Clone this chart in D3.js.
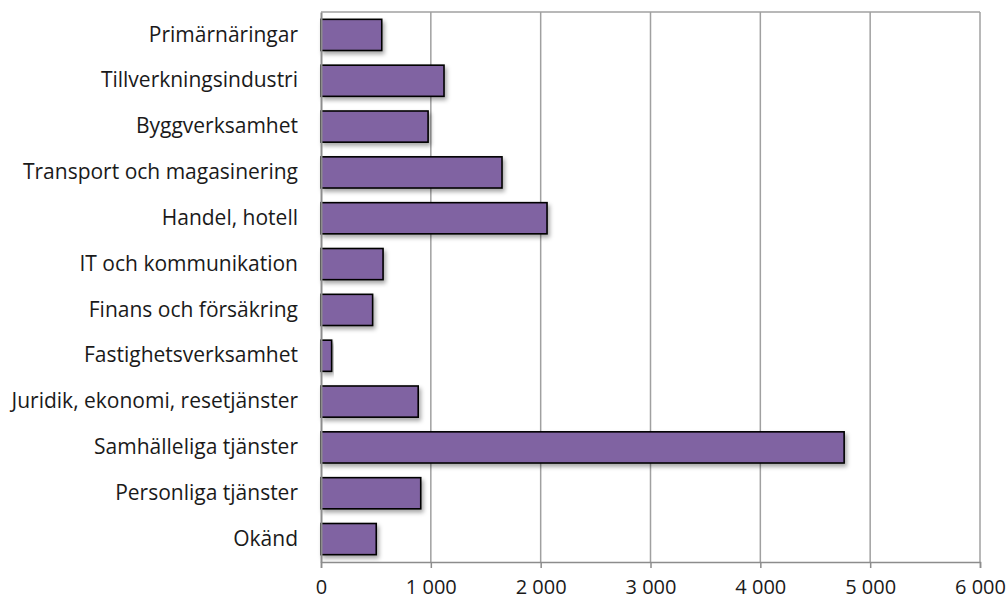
<!DOCTYPE html>
<html>
<head>
<meta charset="utf-8">
<script src="https://cdn.jsdelivr.net/npm/d3@7"></script>
<style>
  body { margin: 0; background: #fff; }
  text { font-family: "Open Sans", sans-serif; }
</style>
</head>
<body>
<div id="chart"></div>
<script>
let w = 1008;
let h = 600;

// data
let categories = [
  "Primärnäringar",
  "Tillverkningsindustri",
  "Byggverksamhet",
  "Transport och magasinering",
  "Handel, hotell",
  "IT och kommunikation",
  "Finans och försäkring",
  "Fastighetsverksamhet",
  "Juridik, ekonomi, resetjänster",
  "Samhälleliga tjänster",
  "Personliga tjänster",
  "Okänd"
];
let values = [553, 1120, 975, 1648, 2058, 565, 470, 97, 885, 4763, 908, 503];
let xTicks = [0, 1000, 2000, 3000, 4000, 5000, 6000];

let plotLeft = 321, plotRight = 980, plotTop = 12, plotBottom = 562;

let svg = d3.select("#chart").append("svg")
  .attr("width", w)
  .attr("height", h);

let defs = svg.append("defs");
let f = defs.append("filter").attr("id", "shadow")
  .attr("x", "-10%").attr("y", "-30%").attr("width", "130%").attr("height", "180%");
f.append("feDropShadow")
  .attr("dx", 2).attr("dy", 3).attr("stdDeviation", 2)
  .attr("flood-color", "#000").attr("flood-opacity", 0.35);

let x = d3.scaleLinear().domain([0, 6000]).range([plotLeft, plotRight]);
let y = d3.scaleBand().domain(categories).range([plotTop, plotBottom]).paddingInner(0.32).paddingOuter(0.16);

// gridlines
svg.append("g").selectAll("line").data(xTicks.slice(1)).enter()
  .append("line")
  .attr("x1", d => x(d)).attr("x2", d => x(d))
  .attr("y1", plotTop).attr("y2", plotBottom)
  .attr("stroke", "#a0a0a0").attr("stroke-width", 1.5);

svg.append("line")
  .attr("x1", plotLeft).attr("x2", plotRight)
  .attr("y1", plotTop).attr("y2", plotTop)
  .attr("stroke", "#a0a0a0").attr("stroke-width", 1.5);

// bars
svg.append("g").selectAll("rect").data(values).enter()
  .append("rect")
  .attr("x", x(0))
  .attr("y", (d, i) => y(categories[i]))
  .attr("width", d => x(d) - x(0))
  .attr("height", y.bandwidth())
  .attr("fill", "#8064a2")
  .attr("stroke", "#000")
  .attr("stroke-width", 1.6)
  .attr("filter", "url(#shadow)");

// x axis
let xAxis = d3.axisBottom(x)
  .tickValues(xTicks)
  .tickSize(6)
  .tickPadding(12)
  .tickFormat(d => d3.format(",")(d).replace(",", "\u00a0"));

let xg = svg.append("g")
  .attr("transform", "translate(0," + plotBottom + ")")
  .call(xAxis);
xg.select(".domain").attr("stroke", "#8c8c8c").attr("stroke-width", 1.5);
xg.selectAll(".tick line").attr("stroke", "#8c8c8c").attr("stroke-width", 1.5);
xg.selectAll("text").attr("font-size", 20).attr("fill", "#1a1a1a")
  .style("font-family", "'Open Sans', sans-serif");

// y axis
let yAxis = d3.axisLeft(y).tickSize(0).tickPadding(23);
let yg = svg.append("g")
  .attr("transform", "translate(" + plotLeft + ",0)")
  .call(yAxis);
yg.select(".domain").attr("stroke", "#8c8c8c").attr("stroke-width", 2);
yg.selectAll("text").attr("font-size", 21).attr("fill", "#1a1a1a")
  .style("font-family", "'Open Sans', sans-serif");
</script>
</body>
</html>
